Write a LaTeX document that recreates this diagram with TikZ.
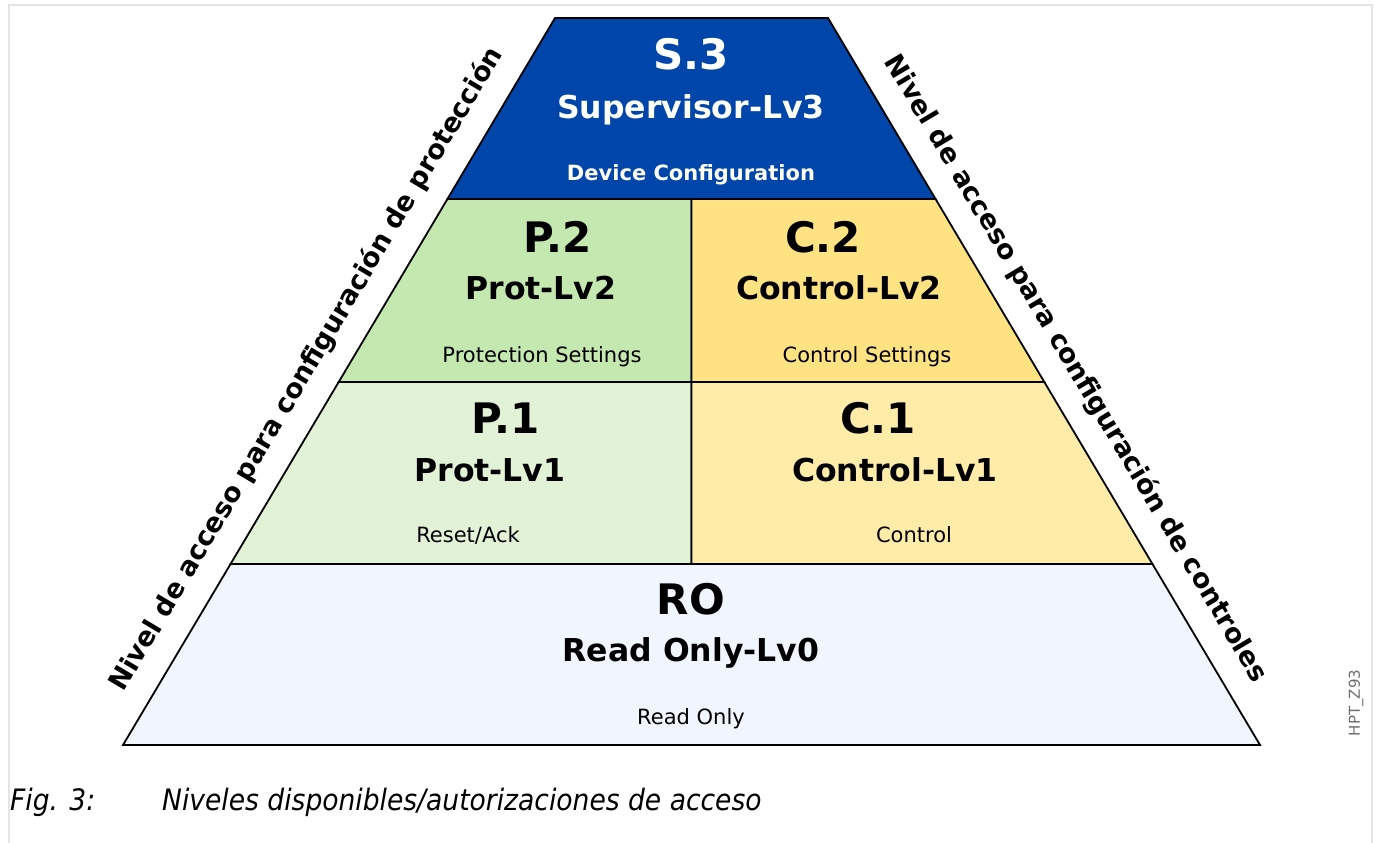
\documentclass[tikz,border=0pt]{standalone}
\usepackage{fontspec}
\setmainfont{DejaVu Sans}
\newfontfamily\capfont{DejaVu Sans}[FakeStretch=0.9]
\usepackage{tikz}
\usetikzlibrary{calc}
\definecolor{supblue}{RGB}{0,69,170}
\definecolor{protdark}{RGB}{197,232,176}
\definecolor{protlight}{RGB}{226,242,215}
\definecolor{ctrldark}{RGB}{255,227,130}
\definecolor{ctrllight}{RGB}{255,236,168}
\definecolor{rofill}{RGB}{240,245,255}
\definecolor{framegray}{RGB}{229,229,229}
\definecolor{taggray}{RGB}{110,110,110}

\begin{document}
\begin{tikzpicture}[x=1pt, y=-1pt,
      band/.style={draw=black, line width=1.8pt, line join=miter},
      code/.style={inner sep=0pt, anchor=base, font=\fontsize{42}{46}\selectfont\bfseries},
      lvname/.style={inner sep=0pt, anchor=base, font=\fontsize{31.5}{36}\selectfont\bfseries},
      lvinfo/.style={inner sep=0pt, anchor=base, font=\fontsize{21}{24}\selectfont},
      side/.style={sloped, above, inner sep=20pt, font=\fontsize{26.8}{30}\selectfont\bfseries},
    ]
    \useasboundingbox (0,0) rectangle (1377,843);
    \draw[framegray, line width=2pt] (9,843) -- (9,5) -- (1372,5) -- (1372,843);

    % pyramid corners and level borders
    \coordinate (tl) at (555,18);
    \coordinate (tr) at (828,18);
    \coordinate (bl) at (123,745);
    \coordinate (br) at (1260,745);
    \foreach \n/\f in {1/0.249, 2/0.5007, 3/0.751} {
      \coordinate (l\n) at ($(tl)!\f!(bl)$);
      \coordinate (r\n) at ($(tr)!\f!(br)$);
      \coordinate (m\n) at ($(l\n)!0.5!(r\n)$);
    }

    \filldraw[band, fill=supblue] (tl) -- (tr) -- (r1) -- (l1) -- cycle;
    \filldraw[band, fill=protdark] (l1) -- (m1) -- (m2) -- (l2) -- cycle;
    \filldraw[band, fill=ctrldark] (m1) -- (r1) -- (r2) -- (m2) -- cycle;
    \filldraw[band, fill=protlight] (l2) -- (m2) -- (m3) -- (l3) -- cycle;
    \filldraw[band, fill=ctrllight] (m2) -- (r2) -- (r3) -- (m3) -- cycle;
    \filldraw[band, fill=rofill] (l3) -- (r3) -- (br) -- (bl) -- cycle;

    % supervisor
    \node[code, white] (s3) at (691,70) {S.3};
    \node[lvname, white] (s3name) at (691,118) {Supervisor-Lv3};
    \node[inner sep=0pt, anchor=base, white, font=\fontsize{21}{24}\selectfont\bfseries] (s3info) at (691,180) {Device Configuration};

    % level 2
    \node[code] (p2) at (558,252) {P.2};
    \node[lvname] (p2name) at (541,299) {Prot-Lv2};
    \node[lvinfo] (p2info) at (542,362) {Protection Settings};
    \node[code] (c2) at (823,252) {C.2};
    \node[lvname] (c2name) at (839,299) {Control-Lv2};
    \node[lvinfo] (c2info) at (867,362) {Control Settings};

    % level 1
    \node[code] (p1) at (506,433) {P.1};
    \node[lvname] (p1name) at (490,481) {Prot-Lv1};
    \node[lvinfo] (p1info) at (468,542) {Reset/Ack};
    \node[code] (c1) at (878,433) {C.1};
    \node[lvname] (c1name) at (895,481) {Control-Lv1};
    \node[lvinfo] (c1info) at (914,542) {Control};

    % level 0
    \node[code] (ro) at (691,614) {RO};
    \node[lvname] (roname) at (691,661) {Read Only-Lv0};
    \node[lvinfo] (roinfo) at (691,724) {Read Only};

    % side labels
    \path (bl) -- node[side, pos=0.493] (protside) {Nivel de acceso para configuración de protección} (tl);
    \path (tr) -- node[side, pos=0.506] (ctrlside) {Nivel de acceso para configuración de controles} (br);

    \node[rotate=90, inner sep=0pt, taggray, font=\fontsize{15}{18}\selectfont] (tag) at (1356,703) {HPT\_Z93};

    % caption
    \node[anchor=base west, inner sep=0pt, font=\capfont\itshape\fontsize{29.5}{34}\selectfont] (fignum) at (10,810) {Fig. 3:};
    \node[anchor=base west, inner sep=0pt, font=\capfont\itshape\fontsize{29.5}{34}\selectfont] (figtext) at (162,810) {Niveles disponibles/autorizaciones de acceso};
  \end{tikzpicture}
\end{document}
